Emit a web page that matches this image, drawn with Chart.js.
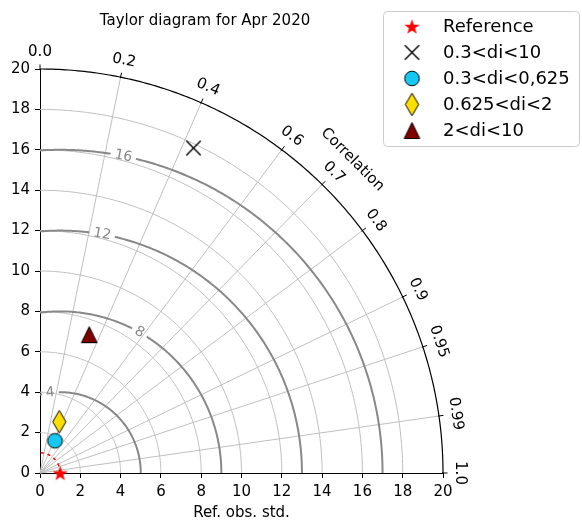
<!DOCTYPE html>
<html>
<head>
<meta charset="utf-8">
<script src="https://cdn.jsdelivr.net/npm/chart.js@4/dist/chart.umd.min.js"></script>
<style>
  html, body { margin: 0; padding: 0; background: #ffffff; }
  #wrap { width: 582px; height: 523px; }
</style>
</head>
<body>
<div id="wrap"><canvas id="taylor" width="582" height="523"></canvas></div>
<script>
// ---- chart values ----
const TITLE = 'Taylor diagram for Apr 2020';
const CATEGORIES = ['Reference', '0.3<di<10', '0.3<di<0,625', '0.625<di<2', '2<di<10'];
const STD_DEV = [1.0, 17.8, 1.76, 2.71, 7.27];          // standard deviation of each series
const CORRELATION = [1.0, 0.428, 0.422, 0.353, 0.336];  // correlation with the reference
const STD_TICKS = [0, 2, 4, 6, 8, 10, 12, 14, 16, 18, 20];
const STD_GRID = [2, 4, 6, 8, 10, 12, 14, 16, 18];
const CORR_TICKS = [0.0, 0.2, 0.4, 0.6, 0.7, 0.8, 0.9, 0.95, 0.99, 1.0];
const CORR_TICK_LABELS = ['0.0', '0.2', '0.4', '0.6', '0.7', '0.8', '0.9', '0.95', '0.99', '1.0'];
const CORR_GRID = [0.2, 0.4, 0.6, 0.7, 0.8, 0.9, 0.95, 0.99];
const RMS_LEVELS = [4, 8, 12, 16];
const RMS_LABEL_ANGLES = [97, 60.5, 80, 78.7];          // where each contour carries its label (deg)
const STD_MAX = 20;
const REF_STD = STD_DEV[0];

// ---- styles ----
const FONT = "'DejaVu Sans', sans-serif";
const GRID_COLOR = '#bfbfbf';
const CONTOUR_COLOR = '#888888';
const MARKER_COLORS = ['#ff0000', '#000000', '#16c8f2', '#ffdf00', '#800000'];

Chart.defaults.font.family = FONT;
Chart.defaults.color = '#000';

// ---- marker glyphs ----
function glyph(w, h, draw) {
  const c = document.createElement('canvas');
  c.width = w; c.height = h;
  const g = c.getContext('2d');
  g.translate(w / 2, h / 2);
  draw(g);
  return c;
}
const MARKERS = [
  glyph(19, 19, g => {            // filled five-point star
    const ro = 8, ri = ro * 0.4;
    g.beginPath();
    for (let i = 0; i < 10; i++) {
      const r = i % 2 ? ri : ro;
      const a = -Math.PI / 2 + i * Math.PI / 5;
      const px = r * Math.cos(a), py = r * Math.sin(a) + 0.8;
      i ? g.lineTo(px, py) : g.moveTo(px, py);
    }
    g.closePath();
    g.fillStyle = MARKER_COLORS[0]; g.fill();
  }),
  glyph(19, 19, g => {            // x cross
    const h = 7.2;
    g.beginPath();
    g.moveTo(-h, -h); g.lineTo(h, h);
    g.moveTo(-h, h); g.lineTo(h, -h);
    g.strokeStyle = MARKER_COLORS[1]; g.lineWidth = 1.4; g.stroke();
  }),
  glyph(19, 19, g => {            // circle
    g.beginPath(); g.arc(0, 0, 7.3, 0, Math.PI * 2);
    g.fillStyle = MARKER_COLORS[2]; g.fill();
    g.strokeStyle = '#000'; g.lineWidth = 1; g.stroke();
  }),
  glyph(17, 27, g => {            // thin diamond
    g.beginPath();
    g.moveTo(0, -11.3); g.lineTo(6.6, 0); g.lineTo(0, 11.3); g.lineTo(-6.6, 0); g.closePath();
    g.fillStyle = MARKER_COLORS[3]; g.fill();
    g.strokeStyle = '#000'; g.lineWidth = 1; g.stroke();
  }),
  glyph(21, 21, g => {            // triangle
    g.beginPath();
    g.moveTo(0, -8); g.lineTo(7.8, 8); g.lineTo(-7.8, 8); g.closePath();
    g.fillStyle = MARKER_COLORS[4]; g.fill();
    g.strokeStyle = '#000'; g.lineWidth = 1; g.stroke();
  })
];

// ---- datasets built from std / correlation pairs ----
const datasets = CATEGORIES.map((name, i) => {
  const th = Math.acos(CORRELATION[i]);
  return {
    label: name,
    data: [{ x: STD_DEV[i] * Math.cos(th), y: STD_DEV[i] * Math.sin(th) }],
    pointStyle: MARKERS[i],
    pointRadius: 8,
    pointHoverRadius: 8,
    order: CATEGORIES.length - i,
    clip: false
  };
});

// ---- helpers drawing in data space through the chart scales ----
function px(chart, x, y) {
  return [chart.scales.x.getPixelForValue(x), chart.scales.y.getPixelForValue(y)];
}
function strokePath(chart, pts) {
  const ctx = chart.ctx;
  ctx.beginPath();
  pts.forEach((p, i) => {
    const [a, b] = px(chart, p[0], p[1]);
    i ? ctx.lineTo(a, b) : ctx.moveTo(a, b);
  });
  ctx.stroke();
}
function arcPts(cx, cy, r, a0, a1, n) {
  const pts = [];
  for (let k = 0; k <= n; k++) {
    const a = a0 + (a1 - a0) * k / n;
    pts.push([cx + r * Math.cos(a), cy + r * Math.sin(a)]);
  }
  return pts;
}
function rotatedText(ctx, text, x, y, rot) {
  ctx.save();
  ctx.translate(x, y);
  ctx.rotate(rot);
  ctx.fillText(text, 0, 0);
  ctx.restore();
}

const taylorFrame = {
  id: 'taylorFrame',
  beforeDatasetsDraw(chart) {
    const ctx = chart.ctx;
    const sx = chart.scales.x;
    const unitX = sx.getPixelForValue(1) - sx.getPixelForValue(0);
    ctx.save();
    ctx.lineCap = 'butt';

    // standard deviation arcs
    ctx.strokeStyle = GRID_COLOR; ctx.lineWidth = 1;
    STD_GRID.forEach(s => strokePath(chart, arcPts(0, 0, s, 0, Math.PI / 2, 120)));

    // correlation rays
    CORR_GRID.forEach(c => {
      const th = Math.acos(c);
      strokePath(chart, [[0, 0], [STD_MAX * Math.cos(th), STD_MAX * Math.sin(th)]]);
    });

    // centred RMS difference contours with inline labels
    ctx.font = `14px ${FONT}`;
    ctx.textAlign = 'center'; ctx.textBaseline = 'middle';
    RMS_LEVELS.forEach((r, i) => {
      const aEnd = Math.acos(Math.max(-1, -REF_STD / r));
      const aLab = RMS_LABEL_ANGLES[i] * Math.PI / 180;
      const text = String(r);
      const gap = (ctx.measureText(text).width / 2 + 4) / (r * unitX);
      ctx.strokeStyle = CONTOUR_COLOR; ctx.lineWidth = 2;
      strokePath(chart, arcPts(REF_STD, 0, r, 0, aLab - gap, 160));
      if (aLab + gap < aEnd) strokePath(chart, arcPts(REF_STD, 0, r, aLab + gap, aEnd, 60));
      const [lx, ly] = px(chart, REF_STD + r * Math.cos(aLab), r * Math.sin(aLab));
      let rot = Math.atan2(-Math.cos(aLab), -Math.sin(aLab));
      if (Math.cos(rot) < 0) rot += Math.PI;
      ctx.fillStyle = CONTOUR_COLOR;
      rotatedText(ctx, text, lx, ly, rot);
    });

    // reference standard deviation arc
    ctx.strokeStyle = '#ff0000'; ctx.lineWidth = 1.5; ctx.setLineDash([3, 4]);
    strokePath(chart, arcPts(0, 0, REF_STD, 0, Math.PI / 2, 40));
    ctx.setLineDash([]);

    // outer correlation axis
    ctx.strokeStyle = '#000'; ctx.lineWidth = 1.2;
    strokePath(chart, arcPts(0, 0, STD_MAX, 0, Math.PI / 2, 200));
    ctx.font = `15px ${FONT}`; ctx.fillStyle = '#000';
    CORR_TICKS.forEach((c, i) => {
      const th = Math.acos(c);
      const [ex, ey] = px(chart, STD_MAX * Math.cos(th), STD_MAX * Math.sin(th));
      const ux = Math.cos(th), uy = -Math.sin(th);
      ctx.lineWidth = 1;
      ctx.beginPath();
      ctx.moveTo(ex - ux * 1, ey - uy * 1);
      ctx.lineTo(ex + ux * 4.5, ey + uy * 4.5);
      ctx.stroke();
      rotatedText(ctx, CORR_TICK_LABELS[i], ex + ux * 17, ey + uy * 17, Math.PI / 2 - th);
    });
    // axis caption along the arc
    const thC = Math.PI / 4;
    const [cx0, cy0] = px(chart, STD_MAX * Math.cos(thC), STD_MAX * Math.sin(thC));
    ctx.font = `15px ${FONT}`;
    rotatedText(ctx, 'Correlation', cx0 + Math.cos(thC) * 39, cy0 - Math.sin(thC) * 39, Math.PI / 2 - thC);
    ctx.restore();
  },
  afterDraw(chart) {
    const ctx = chart.ctx;
    ctx.save();
    // title
    ctx.font = `15px ${FONT}`; ctx.fillStyle = '#000';
    ctx.textAlign = 'center'; ctx.textBaseline = 'middle';
    ctx.fillText(TITLE, 205, 21.5);

    // legend
    const bx = 383.5, by = 11.5, bw = 196, bh = 135, rr = 4;
    ctx.beginPath();
    ctx.moveTo(bx + rr, by);
    ctx.arcTo(bx + bw, by, bx + bw, by + bh, rr);
    ctx.arcTo(bx + bw, by + bh, bx, by + bh, rr);
    ctx.arcTo(bx, by + bh, bx, by, rr);
    ctx.arcTo(bx, by, bx + bw, by, rr);
    ctx.closePath();
    ctx.fillStyle = 'rgba(255,255,255,0.8)'; ctx.fill();
    ctx.strokeStyle = '#cccccc'; ctx.lineWidth = 1; ctx.stroke();
    ctx.font = `18px ${FONT}`; ctx.textAlign = 'left'; ctx.fillStyle = '#000';
    CATEGORIES.forEach((name, i) => {
      const y = 26.5 + i * 26;
      const m = MARKERS[i];
      ctx.drawImage(m, 412 - m.width / 2, y - m.height / 2);
      ctx.fillText(name, 443, y + 1);
    });
    ctx.restore();
  }
};

new Chart(document.getElementById('taylor'), {
  type: 'scatter',
  data: { datasets },
  options: {
    responsive: false,
    devicePixelRatio: 1,
    animation: false,
    events: [],
    layout: { padding: { top: 69, right: 139, left: 0, bottom: 0 } },
    plugins: { legend: { display: false }, title: { display: false }, tooltip: { enabled: false } },
    scales: {
      x: {
        type: 'linear', min: 0, max: STD_MAX,
        afterBuildTicks(s) { s.ticks = STD_TICKS.map(v => ({ value: v })); },
        ticks: { color: '#000', font: { size: 15 }, padding: 5, maxRotation: 0, autoSkip: false },
        grid: { drawOnChartArea: false, drawTicks: true, tickLength: 5, color: '#000' },
        border: { display: true, color: '#000', width: 1 },
        title: { display: true, text: 'Ref. obs. std.', color: '#000', font: { size: 15 }, padding: { top: 0, bottom: 1 } },
        afterFit(s) { s.height = 50; }
      },
      y: {
        type: 'linear', min: 0, max: STD_MAX,
        afterBuildTicks(s) { s.ticks = STD_TICKS.map(v => ({ value: v })); },
        ticks: { color: '#000', font: { size: 15 }, padding: 5, autoSkip: false },
        grid: { drawOnChartArea: false, drawTicks: true, tickLength: 5, color: '#000' },
        border: { display: true, color: '#000', width: 1 },
        afterFit(s) { s.width = 40; }
      }
    }
  },
  plugins: [taylorFrame]
});
</script>
</body>
</html>
